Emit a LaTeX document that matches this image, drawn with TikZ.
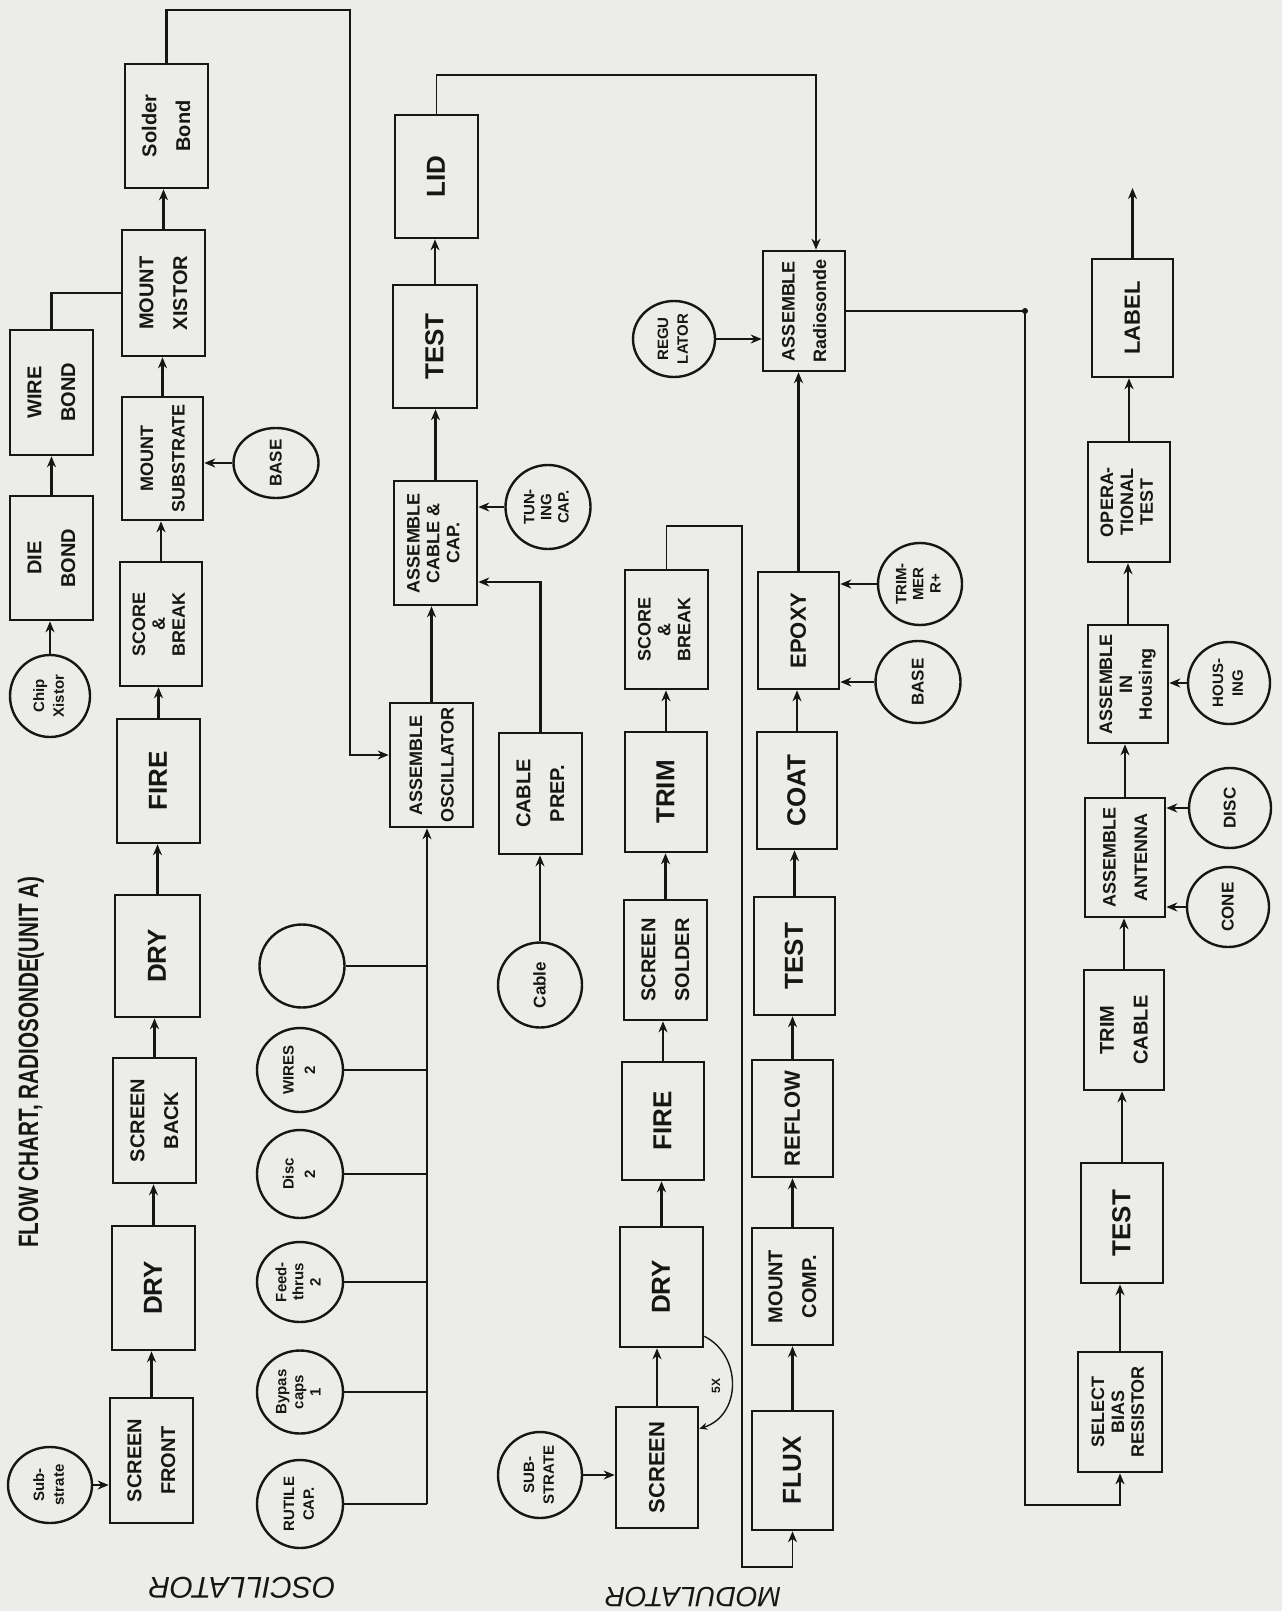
\documentclass[tikz,border=0pt]{standalone}
\usepackage{fontspec}
\setmainfont{Liberation Sans}
\usetikzlibrary{arrows.meta,shapes.geometric}
\definecolor{paper}{RGB}{236,236,233}
\definecolor{ink}{RGB}{22,22,22}
\newcommand{\rt}[2][1.4]{\rotatebox{90}{\makebox[0pt]{\def\arraystretch{#1}\begin{tabular}{@{}c@{}}#2\end{tabular}}}}
\begin{document}
\begin{tikzpicture}[x=1pt,y=-1pt,
  box/.style={draw=ink, line width=2.6pt, rectangle, inner sep=0pt, text=ink, font=\bfseries\fontsize{20}{24}\selectfont},
  big/.style={font=\bfseries\fontsize{26}{30}\selectfont},
  mid/.style={font=\bfseries\fontsize{22}{26}\selectfont},
  sml/.style={font=\bfseries\fontsize{18}{21}\selectfont},
  circ/.style={draw=ink, line width=2.4pt, ellipse, inner sep=0pt, text=ink, font=\bfseries\fontsize{15}{18}\selectfont},
  cbig/.style={font=\bfseries\fontsize{17}{20}\selectfont},
  ln/.style={draw=ink, line width=2.2pt},
  thinln/.style={draw=ink, line width=1.8pt},
  arr/.style={ln, -{Stealth[length=11pt,width=9pt]}},
  tarr/.style={thinln, -{Stealth[length=11pt,width=9pt]}},
]
\fill[paper] (0,0) rectangle (1282,1611);
\useasboundingbox (0,0) rectangle (1282,1611);

% ---------- oscillator substrate chain ----------
\node[box, minimum width=83, minimum height=125] (sf) at (151.5,1460.5) {\rt{SCREEN\\FRONT}};
\node[box, big, minimum width=83, minimum height=124] (dry1) at (153.5,1288) {\rt{DRY}};
\node[box, minimum width=83, minimum height=125] (sback) at (154.5,1120.5) {\rt{SCREEN\\BACK}};
\node[box, big, minimum width=85, minimum height=122] (dry2) at (157.5,956) {\rt{DRY}};
\node[box, big, minimum width=83, minimum height=124] (fire1) at (158.5,781) {\rt{FIRE}};
\node[box, sml, minimum width=82, minimum height=124] (sb1) at (161,624) {\rt[0.95]{SCORE\\\&\\BREAK}};
\node[box, sml, minimum width=81, minimum height=123] (msub) at (162.5,458.5) {\rt[1.5]{MOUNT\\SUBSTRATE}};
\node[box, minimum width=83, minimum height=126] (mxis) at (163.5,293) {\rt{MOUNT\\XISTOR}};
\node[box, minimum width=83, minimum height=124] (solder) at (166.5,126) {\rt{Solder\\Bond}};
\node[box, minimum width=83, minimum height=124] (dbond) at (51.5,558) {\rt{DIE\\BOND}};
\node[box, minimum width=83, minimum height=125] (wbond) at (51.5,392.5) {\rt{WIRE\\BOND}};
\node[circ, minimum width=80, minimum height=82] (chip) at (50,696) {\rt[1.1]{Chip\\Xistor}};
\node[circ, minimum width=84, minimum height=76] (sub1) at (50,1485) {\rt[1.1]{Sub-\\strate}};
\node[circ, cbig, minimum width=85, minimum height=70] (base1) at (276,463) {\rt{BASE}};

% ---------- oscillator assembly ----------
\node[box, sml, minimum width=83, minimum height=124] (aosc) at (431.5,765) {\rt[1.5]{ASSEMBLE\\OSCILLATOR}};
\node[box, sml, minimum width=83, minimum height=124] (acab) at (435.5,543) {\rt[0.95]{ASSEMBLE\\CABLE \&\\CAP.}};
\node[box, big, minimum width=84, minimum height=123] (test1) at (435,346.5) {\rt{TEST}};
\node[box, big, minimum width=83, minimum height=123] (lid) at (436.5,176.5) {\rt{LID}};
\node[circ, minimum width=85, minimum height=84] (tuning) at (548,507) {\rt[0.95]{TUN-\\ING\\CAP.}};
\node[box, minimum width=83, minimum height=121] (cprep) at (540.5,793.5) {\rt{CABLE\\PREP.}};
\node[circ, cbig, minimum width=84, minimum height=85] (cable) at (540,985) {\rt{Cable}};
\node[circ, minimum width=85, minimum height=83] (empty) at (302,966) {};
\node[circ, minimum width=86, minimum height=84] (wires) at (300,1070) {\rt[1.2]{WIRES\\2}};
\node[circ, minimum width=86, minimum height=88] (disc) at (300,1174) {\rt[1.2]{Disc\\2}};
\node[circ, minimum width=86, minimum height=80] (feed) at (300,1282) {\rt[0.95]{Feed-\\thrus\\2}};
\node[circ, minimum width=86, minimum height=83] (bypass) at (300,1392) {\rt[0.95]{Bypas\\caps\\1}};
\node[circ, minimum width=86, minimum height=88] (rutile) at (300,1504) {\rt[1.1]{RUTILE\\CAP.}};

% ---------- modulator ----------
\node[circ, minimum width=84, minimum height=86] (sub2) at (540,1475) {\rt[1.1]{SUB-\\STRATE}};
\node[box, mid, minimum width=82, minimum height=121] (scr2) at (657,1467.5) {\rt{SCREEN}};
\node[box, big, minimum width=83, minimum height=120] (dry3) at (661.5,1287) {\rt{DRY}};
\node[box, big, minimum width=82, minimum height=118] (fire2) at (663,1121) {\rt{FIRE}};
\node[box, minimum width=83, minimum height=120] (ssold) at (665.5,960) {\rt{SCREEN\\SOLDER}};
\node[box, big, minimum width=82, minimum height=120] (trim) at (666,792) {\rt{TRIM}};
\node[box, sml, minimum width=83, minimum height=119] (sb2) at (666.5,629.5) {\rt[0.95]{SCORE\\\&\\BREAK}};
\node[box, big, minimum width=81, minimum height=119] (flux) at (792.5,1470.5) {\rt{FLUX}};
\node[box, minimum width=81, minimum height=117] (mcomp) at (792.5,1286.5) {\rt{MOUNT\\COMP.}};
\node[box, mid, minimum width=81, minimum height=117] (reflow) at (792.5,1118.5) {\rt{REFLOW}};
\node[box, big, minimum width=81, minimum height=118] (test2) at (794.5,956) {\rt{TEST}};
\node[box, big, minimum width=80, minimum height=117] (coat) at (797,790.5) {\rt{COAT}};
\node[box, mid, minimum width=81, minimum height=117] (epoxy) at (798.5,630.5) {\rt{EPOXY}};
\node[circ, cbig, minimum width=85, minimum height=82] (base2) at (918,682) {\rt{BASE}};
\node[circ, minimum width=84, minimum height=82] (trimmer) at (920,584) {\rt[0.95]{TRIM-\\MER\\R+}};
\node[circ, minimum width=82, minimum height=76] (reg) at (674,339) {\rt[1.1]{REGU\\LATOR}};
\node[box, sml, minimum width=82, minimum height=120] (arad) at (804,311) {\rt[1.5]{ASSEMBLE\\Radiosonde}};

% ---------- final assembly ----------
\node[box, sml, minimum width=84, minimum height=120] (sel) at (1120,1412) {\rt[0.95]{SELECT\\BIAS\\RESISTOR}};
\node[box, big, minimum width=82, minimum height=120] (test3) at (1122,1223) {\rt{TEST}};
\node[box, minimum width=80, minimum height=120] (tcab) at (1124,1030) {\rt{TRIM\\CABLE}};
\node[box, sml, minimum width=80, minimum height=119] (aant) at (1125,857.5) {\rt[1.5]{ASSEMBLE\\ANTENNA}};
\node[box, sml, minimum width=80, minimum height=118] (ahous) at (1128,684) {\rt[0.95]{ASSEMBLE\\IN\\Housing}};
\node[box, sml, minimum width=82, minimum height=120] (optest) at (1129,502) {\rt[0.95]{OPERA-\\TIONAL\\TEST}};
\node[box, mid, minimum width=81, minimum height=118] (label) at (1132.5,318) {\rt{LABEL}};
\node[circ, minimum width=82, minimum height=82] (housing) at (1229,683) {\rt[1.1]{HOUS-\\ING}};
\node[circ, cbig, minimum width=82, minimum height=80] (disc3) at (1230,808) {\rt{DISC}};
\node[circ, cbig, minimum width=82, minimum height=80] (cone) at (1228,907) {\rt{CONE}};

% ---------- texts ----------
\node[text=ink, font=\bfseries\fontsize{28}{32}\selectfont] (title) at (31,1062) {\rotatebox{90}{\scalebox{0.74}[1]{FLOW CHART, RADIOSONDE(UNIT A)}}};
\node[text=ink, font=\itshape\fontsize{30}{32}\selectfont, rotate=180] (osclbl) at (242,1588) {OSCILLATOR};
\node[text=ink, font=\itshape\fontsize{28}{30}\selectfont, rotate=180] (modlbl) at (693,1597) {MODULATOR};
\node[text=ink, font=\bfseries\fontsize{12}{14}\selectfont] (fivex) at (716,1386) {\rotatebox{90}{5X}};

% ---------- coordinates ----------
\coordinate (t1) at (350,10);
\coordinate (t2) at (816,75);
\coordinate (j1) at (1025,311);
\coordinate (j2) at (1025,1505);
\coordinate (m1) at (742,526);
\coordinate (m2) at (742,1567);
\coordinate (busb) at (427,1504);
\coordinate (out) at (1132.5,188);

% ---------- connectors ----------
\foreach \a/\b in {sf/dry1, dry1/sback, sback/dry2, dry2/fire1, fire1/sb1, sb1/msub, msub/mxis, mxis/solder, chip/dbond, dbond/wbond, aosc/acab, acab/test1, test1/lid, cable/cprep, scr2/dry3, dry3/fire2, fire2/ssold, ssold/trim, trim/sb2, flux/mcomp, mcomp/reflow, reflow/test2, test2/coat, coat/epoxy, epoxy/arad, sel/test3, test3/tcab, tcab/aant, aant/ahous, ahous/optest, optest/label}
  \draw[arr] (\a.north) -- (\a.north |- \b.south);
\foreach \a/\b in {sub1/sf, sub2/scr2, reg/arad}
  \draw[arr] (\a.east) -- (\a.east -| \b.west);
\foreach \a/\b in {base1/msub, tuning/acab, trimmer/epoxy, base2/epoxy, housing/ahous, disc3/aant, cone/aant}
  \draw[arr] (\a.west) -- (\a.west -| \b.east);
\foreach \c in {rutile,bypass,feed,disc,wires,empty}
  \draw[ln] (\c.east) -- (\c.east -| busb);
\draw[arr] (busb) -- (busb |- aosc.south);
\draw[ln] (wbond.north) |- (mxis.west);
\draw[arr] (solder.north) |- (t1) |- ([yshift=10pt]aosc.west);
\draw[arr] (cprep.north) |- ([yshift=-39pt]acab.east);
\draw[tarr] (lid.north) |- (t2) -- (t2 |- arad.north);
\draw[tarr] (arad.east) -- (j1) -- (j2) -| (sel.south);
\fill[ink] (j1) circle (3pt);
\draw[tarr] (sb2.north) |- (m1) -- (m2) -| (flux.south);
\draw[arr] (label.north) -- (out);
\draw[draw=ink, line width=1.4pt, -{Stealth[length=8pt,width=7pt]}] ([yshift=12pt]dry3.south east) .. controls (742,1355) and (742,1415) .. ([yshift=-23pt]scr2.north east);
\end{tikzpicture}
\end{document}
